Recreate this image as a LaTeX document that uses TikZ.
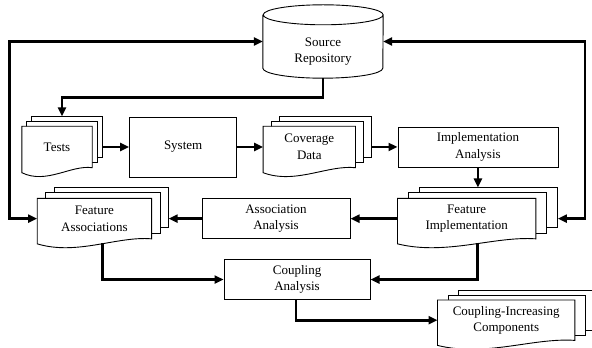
\documentclass[tikz,border=0pt]{standalone}
\usepackage{fontspec}
\setmainfont{Liberation Serif}
\usetikzlibrary{positioning,calc,backgrounds,arrows.meta}

% stack of three pages behind a node: node, x offset, y offset
\newcommand{\docstack}[3]{%
    \begin{scope}[on background layer]
        \foreach \i in {2,1}
            \draw[fill=white,line width=0.9pt] ([shift={(\i*#2,\i*#3)}]#1.south west) rectangle ([shift={(\i*#2,\i*#3)}]#1.north east);
        \draw[fill=white,line width=0.9pt] (#1.south east) -- (#1.north east) -- (#1.north west) -- ([yshift=-5pt]#1.south west)
            .. controls ($(#1.south west)!0.35!(#1.south east)+(0,-17pt)$) and ($(#1.south west)!0.7!(#1.south east)+(0,3pt)$) .. cycle;
    \end{scope}}

\begin{document}
\begin{tikzpicture}[x=1pt,y=1pt,>={Triangle[length=9pt,width=8pt]},
    process/.style={
        rectangle,
        draw=black,
        line width=0.9pt,
        inner sep=0pt,
        text centered,
        align=center,
        font=\fontsize{13}{16.5}\selectfont
        },
    docs/.style={
        rectangle,
        inner sep=0pt,
        text centered,
        align=center,
        font=\fontsize{13}{16.5}\selectfont
        },
    flow/.style={->,line width=2.8pt}]

    \useasboundingbox (0,0) rectangle (592,348);

    \node (src_repo) [docs, minimum width=120pt, minimum height=53pt] at (323,296.5) {Source\\Repository};
    \draw[line width=0.9pt] ([yshift=10pt]src_repo.north west) -- ([yshift=10pt]src_repo.south west)
        arc[start angle=180, end angle=360, x radius=60pt, y radius=10pt]
        -- ([yshift=10pt]src_repo.north east)
        arc[start angle=0, end angle=180, x radius=60pt, y radius=10pt]
        arc[start angle=180, end angle=360, x radius=60pt, y radius=10pt];

    \node (tests) [docs, minimum width=70pt, minimum height=41pt] at (57,201) {Tests};
    \node (sys) [process, minimum width=107pt, minimum height=60pt, right=37pt of tests] {System};
    \node (cov_data) [docs, minimum width=92pt, minimum height=41pt, right=26pt of sys] {Coverage\\Data};
    \node (impl_an) [process, minimum width=160pt, minimum height=40pt, right=42pt of cov_data] {Implementation\\Analysis};

    \node (feat_impl) [docs, minimum width=138pt, minimum height=40pt, below right=31pt and 0pt of impl_an.south west] {Feature\\Implementation};
    \node (assoc_an) [process, minimum width=148pt, minimum height=40pt, left=47pt of feat_impl] {Association\\Analysis};
    \node (feat_assoc) [docs, minimum width=114pt, minimum height=40pt, left=50pt of assoc_an] {Feature\\Associations};

    \node (coup_an) [process, minimum width=146pt, minimum height=40pt, below right=20pt and 22pt of assoc_an.south west] {Coupling\\Analysis};
    \node (coup_comp) [docs, minimum width=137pt, minimum height=40pt, below right=0pt and 67pt of coup_an.south east] {Coupling-Increasing\\Components};

    \docstack{tests}{5pt}{5pt}
    \docstack{cov_data}{8pt}{5pt}
    \docstack{feat_impl}{11pt}{5.5pt}
    \docstack{feat_assoc}{8.5pt}{5.5pt}
    \docstack{coup_comp}{10.5pt}{5pt}

    \draw[flow,<->] ([yshift=10pt]src_repo.west) -| ([xshift=-28pt]feat_assoc.west) -- (feat_assoc.west);
    \draw[flow,<->] ([yshift=10pt]src_repo.east) -| ([xshift=49pt]feat_impl.east) -- ([xshift=22pt]feat_impl.east);
    \draw[flow] (src_repo.south) -- ++(0,-19pt) -| ([shift={(5pt,10pt)}]tests.north);

    \draw[flow] ([xshift=10pt]tests.east) -- (sys.west);
    \draw[flow] (sys.east) -- (cov_data.west);
    \draw[flow] ([xshift=16pt]cov_data.east) -- (impl_an.west);
    \draw[flow] (impl_an.south) -- ++(0,-20pt);

    \draw[flow] (feat_impl.west) -- (assoc_an.east);
    \draw[flow] (assoc_an.west) -- ([xshift=17pt]feat_assoc.east);

    \draw[flow] ([shift={(8pt,-4.5pt)}]feat_assoc.south) |- (coup_an.west);
    \draw[flow] ([shift={(11pt,-4.5pt)}]feat_impl.south) |- (coup_an.east);
    \draw[flow] ([xshift=-1pt]coup_an.south) |- (coup_comp.west);
\end{tikzpicture}
\end{document}
